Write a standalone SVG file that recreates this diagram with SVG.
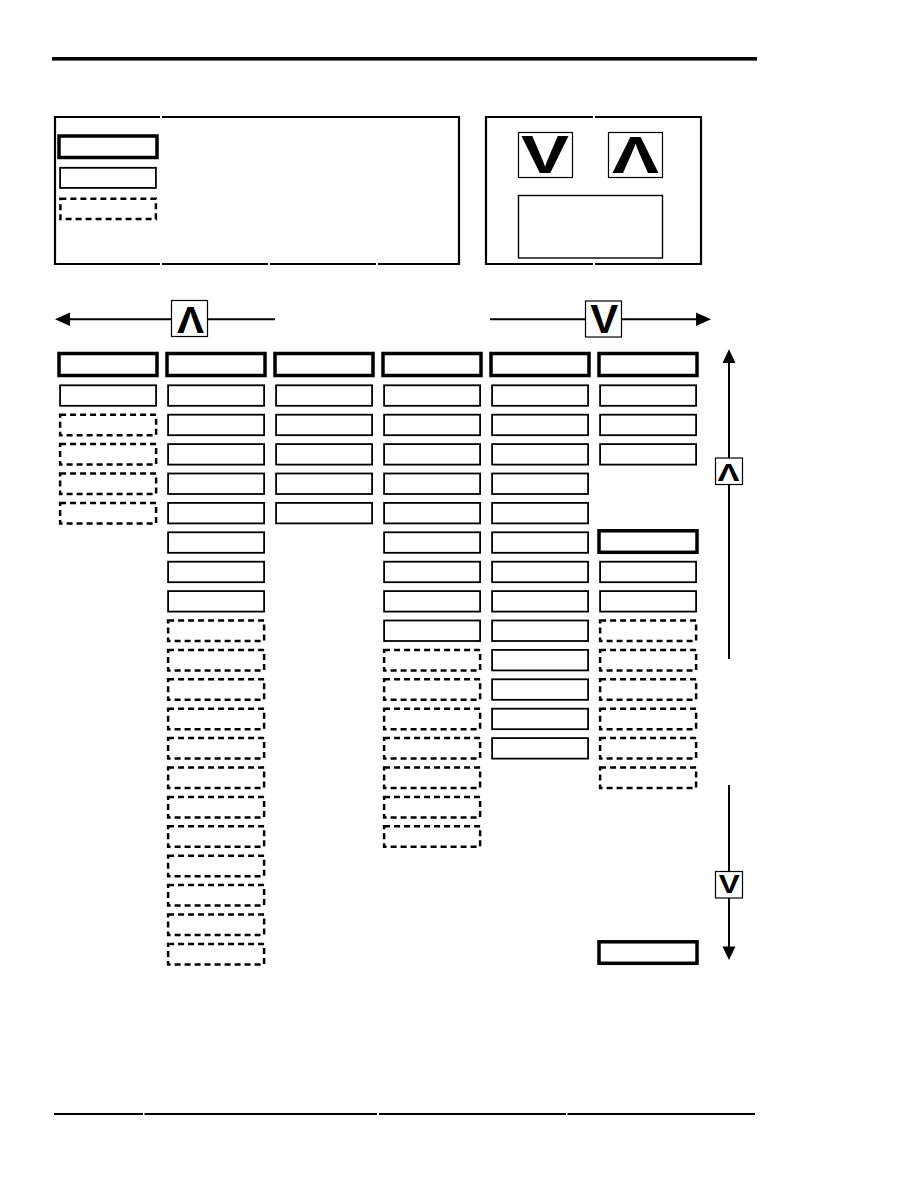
<svg xmlns="http://www.w3.org/2000/svg" width="918" height="1188" viewBox="0 0 918 1188">
<style>
.hdr{fill:none;stroke:#000;stroke-width:3.5}
.thin{fill:none;stroke:#000;stroke-width:1.8}
.dash{fill:none;stroke:#000;stroke-width:2.5;stroke-dasharray:6 4}
.frame{fill:none;stroke:#000;stroke-width:2.2}
.gbox{fill:#fff;stroke:#000;stroke-width:1.2}
.ln{stroke:#000;stroke-width:2;fill:none}
.glyph{font-family:"Liberation Sans","DejaVu Sans",sans-serif;font-weight:bold;text-anchor:middle;fill:#000}
</style>
<rect width="918" height="1188" fill="#fff"/>
<!-- top rule -->
<rect x="52" y="57" width="705" height="3.6" fill="#000"/>
<!-- footer rule -->
<g class="ln" style="stroke-width:2.2">
<line x1="54" y1="1114" x2="143" y2="1114"/>
<line x1="144.5" y1="1114" x2="377" y2="1114"/>
<line x1="379" y1="1114" x2="566" y2="1114"/>
<line x1="567.5" y1="1114" x2="755" y2="1114"/>
</g>
<!-- legend left -->
<g id="legend-styles">
<g class="frame">
<line x1="54" y1="117" x2="160" y2="117"/><line x1="162" y1="117" x2="460" y2="117"/>
<line x1="54" y1="264" x2="160" y2="264"/><line x1="162" y1="264" x2="268" y2="264"/><line x1="270" y1="264" x2="376" y2="264"/><line x1="378" y1="264" x2="460" y2="264"/>
<line x1="55" y1="116" x2="55" y2="265"/><line x1="459" y1="116" x2="459" y2="265"/>
</g>
<g id="legend-thick"><rect class="hdr" x="59" y="136" width="98" height="21.5"/></g>
<g id="legend-thin"><rect class="thin" x="60.1" y="167.8" width="95.8" height="20.1"/></g>
<g id="legend-dashed"><rect class="dash" x="60.4" y="198.8" width="95.5" height="20.2"/></g>
</g>
<!-- legend right -->
<g id="legend-keys">
<g class="frame">
<line x1="485" y1="117" x2="593" y2="117"/><line x1="595" y1="117" x2="702" y2="117"/>
<line x1="485" y1="264" x2="593" y2="264"/><line x1="595" y1="264" x2="702" y2="264"/>
<line x1="486" y1="116" x2="486" y2="265"/><line x1="701" y1="116" x2="701" y2="265"/>
</g>
<g id="key-down"><rect class="gbox" x="518.5" y="132.5" width="54" height="45"/><text class="glyph" x="545" y="173.3" font-size="53" textLength="48" lengthAdjust="spacingAndGlyphs">V</text></g>
<g id="key-up"><rect class="gbox" x="608.5" y="132.5" width="54" height="45"/><text class="glyph" x="635.5" y="173.3" font-size="51" textLength="47" lengthAdjust="spacingAndGlyphs">Λ</text></g>
<g id="key-box"><rect class="gbox" x="518.5" y="195.5" width="144" height="62.5" style="stroke-width:1.4"/></g>
</g>
<!-- connectors -->
<g id="connectors">
<line class="ln" x1="68" y1="319.3" x2="275" y2="319.3"/>
<polygon points="55,319.3 70,312.5 70,326" fill="#000"/>
<line class="ln" x1="490" y1="319.3" x2="698" y2="319.3"/>
<polygon points="711,319.3 696,312.5 696,326" fill="#000"/>
<line class="ln" x1="729" y1="362" x2="729" y2="659"/>
<polygon points="729,349.3 722.5,363 735.5,363" fill="#000"/>
<line class="ln" x1="729" y1="785" x2="729" y2="948"/>
<polygon points="729,960 722.5,946.5 735.5,946.5" fill="#000"/>
</g>
<g id="nav-left"><rect class="gbox" x="171.5" y="300.5" width="36" height="36"/><text class="glyph" x="190.5" y="333.3" font-size="37" textLength="27" lengthAdjust="spacingAndGlyphs">Λ</text></g>
<g id="nav-right"><rect class="gbox" x="585.5" y="301" width="36" height="36"/><text class="glyph" x="604.2" y="332.7" font-size="40" textLength="28" lengthAdjust="spacingAndGlyphs">V</text></g>
<g id="nav-up"><rect class="gbox" x="715.5" y="458" width="27" height="26.5"/><text class="glyph" x="728.5" y="480.7" font-size="24" textLength="22" lengthAdjust="spacingAndGlyphs">Λ</text></g>
<g id="nav-down"><rect class="gbox" x="715.5" y="871.5" width="27" height="26.5"/><text class="glyph" x="729.3" y="893.3" font-size="25" textLength="21" lengthAdjust="spacingAndGlyphs">V</text></g>
<!-- column headers -->
<g id="c1-h"><rect class="hdr" x="59" y="353.5" width="98" height="22"/></g>
<g id="c2-h"><rect class="hdr" x="167" y="353.5" width="98" height="22"/></g>
<g id="c3-h"><rect class="hdr" x="275" y="353.5" width="98" height="22"/></g>
<g id="c4-h"><rect class="hdr" x="383" y="353.5" width="98" height="22"/></g>
<g id="c5-h"><rect class="hdr" x="491" y="353.5" width="98" height="22"/></g>
<g id="c6-h"><rect class="hdr" x="599" y="353.5" width="98" height="22"/></g>
<!-- column 1 -->
<g id="c1-r1"><rect class="thin" x="60.1" y="385.3" width="96" height="20.5"/></g>
<g id="c1-r2"><rect class="dash" x="60.1" y="414.7" width="96" height="20.5"/></g>
<g id="c1-r3"><rect class="dash" x="60.1" y="444.1" width="96" height="20.5"/></g>
<g id="c1-r4"><rect class="dash" x="60.1" y="473.5" width="96" height="20.5"/></g>
<g id="c1-r5"><rect class="dash" x="60.1" y="502.9" width="96" height="20.5"/></g>
<!-- column 2 -->
<g id="c2-r1"><rect class="thin" x="168.1" y="385.3" width="96" height="20.5"/></g>
<g id="c2-r2"><rect class="thin" x="168.1" y="414.7" width="96" height="20.5"/></g>
<g id="c2-r3"><rect class="thin" x="168.1" y="444.1" width="96" height="20.5"/></g>
<g id="c2-r4"><rect class="thin" x="168.1" y="473.5" width="96" height="20.5"/></g>
<g id="c2-r5"><rect class="thin" x="168.1" y="502.9" width="96" height="20.5"/></g>
<g id="c2-r6"><rect class="thin" x="168.1" y="532.3" width="96" height="20.5"/></g>
<g id="c2-r7"><rect class="thin" x="168.1" y="561.7" width="96" height="20.5"/></g>
<g id="c2-r8"><rect class="thin" x="168.1" y="591.1" width="96" height="20.5"/></g>
<g id="c2-r9"><rect class="dash" x="168.1" y="620.5" width="96" height="20.5"/></g>
<g id="c2-r10"><rect class="dash" x="168.1" y="649.9" width="96" height="20.5"/></g>
<g id="c2-r11"><rect class="dash" x="168.1" y="679.3" width="96" height="20.5"/></g>
<g id="c2-r12"><rect class="dash" x="168.1" y="708.7" width="96" height="20.5"/></g>
<g id="c2-r13"><rect class="dash" x="168.1" y="738.1" width="96" height="20.5"/></g>
<g id="c2-r14"><rect class="dash" x="168.1" y="767.5" width="96" height="20.5"/></g>
<g id="c2-r15"><rect class="dash" x="168.1" y="796.9" width="96" height="20.5"/></g>
<g id="c2-r16"><rect class="dash" x="168.1" y="826.3" width="96" height="20.5"/></g>
<g id="c2-r17"><rect class="dash" x="168.1" y="855.7" width="96" height="20.5"/></g>
<g id="c2-r18"><rect class="dash" x="168.1" y="885.1" width="96" height="20.5"/></g>
<g id="c2-r19"><rect class="dash" x="168.1" y="914.5" width="96" height="20.5"/></g>
<g id="c2-r20"><rect class="dash" x="168.1" y="943.9" width="96" height="20.5"/></g>
<!-- column 3 -->
<g id="c3-r1"><rect class="thin" x="276.1" y="385.3" width="96" height="20.5"/></g>
<g id="c3-r2"><rect class="thin" x="276.1" y="414.7" width="96" height="20.5"/></g>
<g id="c3-r3"><rect class="thin" x="276.1" y="444.1" width="96" height="20.5"/></g>
<g id="c3-r4"><rect class="thin" x="276.1" y="473.5" width="96" height="20.5"/></g>
<g id="c3-r5"><rect class="thin" x="276.1" y="502.9" width="96" height="20.5"/></g>
<!-- column 4 -->
<g id="c4-r1"><rect class="thin" x="384.1" y="385.3" width="96" height="20.5"/></g>
<g id="c4-r2"><rect class="thin" x="384.1" y="414.7" width="96" height="20.5"/></g>
<g id="c4-r3"><rect class="thin" x="384.1" y="444.1" width="96" height="20.5"/></g>
<g id="c4-r4"><rect class="thin" x="384.1" y="473.5" width="96" height="20.5"/></g>
<g id="c4-r5"><rect class="thin" x="384.1" y="502.9" width="96" height="20.5"/></g>
<g id="c4-r6"><rect class="thin" x="384.1" y="532.3" width="96" height="20.5"/></g>
<g id="c4-r7"><rect class="thin" x="384.1" y="561.7" width="96" height="20.5"/></g>
<g id="c4-r8"><rect class="thin" x="384.1" y="591.1" width="96" height="20.5"/></g>
<g id="c4-r9"><rect class="thin" x="384.1" y="620.5" width="96" height="20.5"/></g>
<g id="c4-r10"><rect class="dash" x="384.1" y="649.9" width="96" height="20.5"/></g>
<g id="c4-r11"><rect class="dash" x="384.1" y="679.3" width="96" height="20.5"/></g>
<g id="c4-r12"><rect class="dash" x="384.1" y="708.7" width="96" height="20.5"/></g>
<g id="c4-r13"><rect class="dash" x="384.1" y="738.1" width="96" height="20.5"/></g>
<g id="c4-r14"><rect class="dash" x="384.1" y="767.5" width="96" height="20.5"/></g>
<g id="c4-r15"><rect class="dash" x="384.1" y="796.9" width="96" height="20.5"/></g>
<g id="c4-r16"><rect class="dash" x="384.1" y="826.3" width="96" height="20.5"/></g>
<!-- column 5 -->
<g id="c5-r1"><rect class="thin" x="492.1" y="385.3" width="96" height="20.5"/></g>
<g id="c5-r2"><rect class="thin" x="492.1" y="414.7" width="96" height="20.5"/></g>
<g id="c5-r3"><rect class="thin" x="492.1" y="444.1" width="96" height="20.5"/></g>
<g id="c5-r4"><rect class="thin" x="492.1" y="473.5" width="96" height="20.5"/></g>
<g id="c5-r5"><rect class="thin" x="492.1" y="502.9" width="96" height="20.5"/></g>
<g id="c5-r6"><rect class="thin" x="492.1" y="532.3" width="96" height="20.5"/></g>
<g id="c5-r7"><rect class="thin" x="492.1" y="561.7" width="96" height="20.5"/></g>
<g id="c5-r8"><rect class="thin" x="492.1" y="591.1" width="96" height="20.5"/></g>
<g id="c5-r9"><rect class="thin" x="492.1" y="620.5" width="96" height="20.5"/></g>
<g id="c5-r10"><rect class="thin" x="492.1" y="649.9" width="96" height="20.5"/></g>
<g id="c5-r11"><rect class="thin" x="492.1" y="679.3" width="96" height="20.5"/></g>
<g id="c5-r12"><rect class="thin" x="492.1" y="708.7" width="96" height="20.5"/></g>
<g id="c5-r13"><rect class="thin" x="492.1" y="738.1" width="96" height="20.5"/></g>
<!-- column 6 -->
<g id="c6-r1"><rect class="thin" x="600.1" y="385.3" width="96" height="20.5"/></g>
<g id="c6-r2"><rect class="thin" x="600.1" y="414.7" width="96" height="20.5"/></g>
<g id="c6-r3"><rect class="thin" x="600.1" y="444.1" width="96" height="20.5"/></g>
<g id="c6-r6"><rect class="hdr" x="599" y="530.8" width="98" height="21.5"/></g>
<g id="c6-r7"><rect class="thin" x="600.1" y="561.7" width="96" height="20.5"/></g>
<g id="c6-r8"><rect class="thin" x="600.1" y="591.1" width="96" height="20.5"/></g>
<g id="c6-r9"><rect class="dash" x="600.1" y="620.5" width="96" height="20.5"/></g>
<g id="c6-r10"><rect class="dash" x="600.1" y="649.9" width="96" height="20.5"/></g>
<g id="c6-r11"><rect class="dash" x="600.1" y="679.3" width="96" height="20.5"/></g>
<g id="c6-r12"><rect class="dash" x="600.1" y="708.7" width="96" height="20.5"/></g>
<g id="c6-r13"><rect class="dash" x="600.1" y="738.1" width="96" height="20.5"/></g>
<g id="c6-r14"><rect class="dash" x="600.1" y="767.5" width="96" height="20.5"/></g>
<g id="c6-end"><rect class="hdr" x="599" y="941.8" width="98" height="21.5"/></g>
</svg>
